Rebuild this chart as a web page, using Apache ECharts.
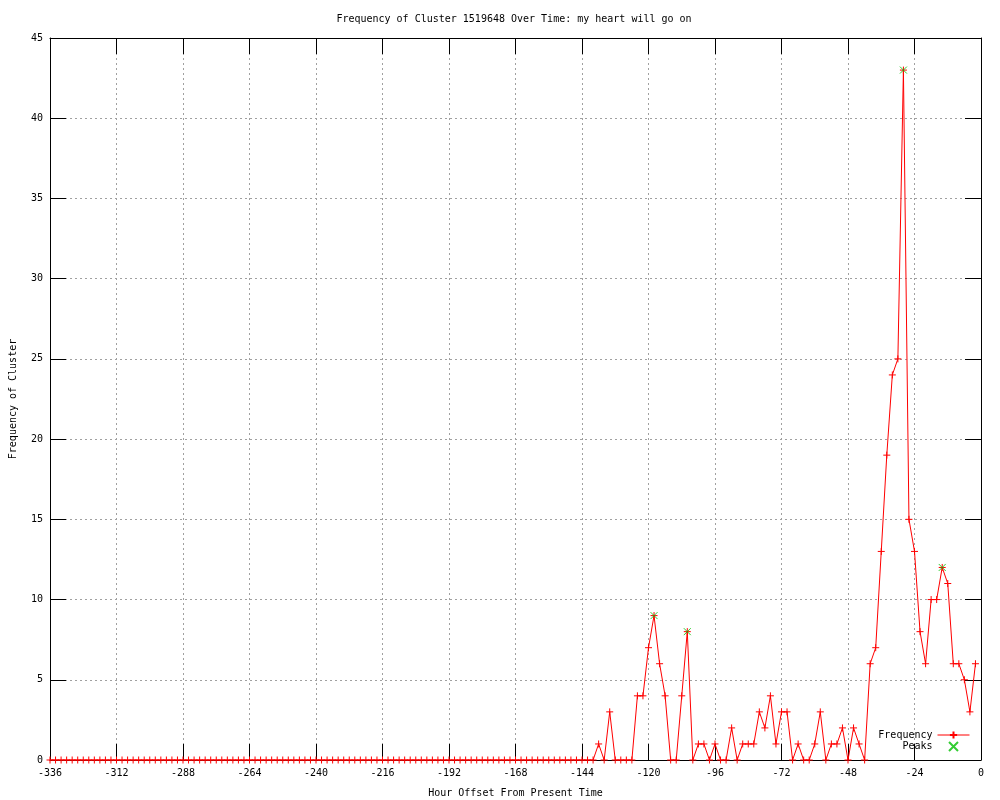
<!DOCTYPE html>
<html>
<head>
<meta charset="utf-8">
<script src="https://cdn.jsdelivr.net/npm/echarts@6/dist/echarts.min.js"></script>
<style>html,body{margin:0;padding:0;background:#fff;}#c{width:1000px;height:800px;}</style>
</head>
<body>
<div id="c"></div>
<script>
// Hour offsets of each sample (every 2 hours)
const hours = [
-336,-334,-332,-330,-328,-326,-324,-322,-320,-318,-316,-314,-312,-310,-308,-306,-304,-302,-300,-298,
-296,-294,-292,-290,-288,-286,-284,-282,-280,-278,-276,-274,-272,-270,-268,-266,-264,-262,-260,-258,
-256,-254,-252,-250,-248,-246,-244,-242,-240,-238,-236,-234,-232,-230,-228,-226,-224,-222,-220,-218,
-216,-214,-212,-210,-208,-206,-204,-202,-200,-198,-196,-194,-192,-190,-188,-186,-184,-182,-180,-178,
-176,-174,-172,-170,-168,-166,-164,-162,-160,-158,-156,-154,-152,-150,-148,-146,-144,-142,-140,
-138,-136,-134,-132,-130,-128,-126,-124,-122,-120,
-118,-116,-114,-112,-110,-108,-106,-104,-102,-100,
-98,-96,-94,-92,-90,-88,-86,-84,-82,-80,
-78,-76,-74,-72,-70,-68,-66,-64,-62,-60,
-58,-56,-54,-52,-50,-48,-46,-44,-42,-40,
-38,-36,-34,-32,-30,-28,-26,-24,-22,-20,
-18,-16,-14,-12,-10,-8,-6,-4,-2
];
// Frequency values at each hour offset
const frequency = [
0,0,0,0,0,0,0,0,0,0,0,0,0,0,0,0,0,0,0,0,
0,0,0,0,0,0,0,0,0,0,0,0,0,0,0,0,0,0,0,0,
0,0,0,0,0,0,0,0,0,0,0,0,0,0,0,0,0,0,0,0,
0,0,0,0,0,0,0,0,0,0,0,0,0,0,0,0,0,0,0,0,
0,0,0,0,0,0,0,0,0,0,0,0,0,0,0,0,0,0,0,
1,0,3,0,0,0,0,4,4,7,
9,6,4,0,0,4,8,0,1,1,
0,1,0,0,2,0,1,1,1,3,
2,4,1,3,3,0,1,0,0,1,
3,0,1,1,2,0,2,1,0,6,
7,13,19,24,25,43,15,13,8,6,
10,10,12,11,6,6,5,3,6
];
// Detected peaks
const peakHours = [-118, -106, -28, -14];
const peakValues = [9, 8, 43, 12];

const titleText = 'Frequency of Cluster 1519648 Over Time: my heart will go on';
const xName = 'Hour Offset From Present Time';
const yName = 'Frequency of Cluster';

const freqData = hours.map((h, i) => [h, frequency[i]]);
const peakData = peakHours.map((h, i) => [h, peakValues[i]]);

const FONT = 'DejaVu Sans Mono';
const plusPath = 'path://M0,5L10,5M5,0L5,10';
const crossPath = 'path://M0,0L10,10M10,0L0,10';

const chart = echarts.init(document.getElementById('c'), null, {renderer: 'canvas'});
const tickStyle = {show: true, inside: true, length: 16, lineStyle: {color: '#000', width: 1}};
const axisLineStyle = {show: true, onZero: false, lineStyle: {color: '#000', width: 1}};
const gridStyle = {show: true, lineStyle: {color: '#a0a0a0', width: 1, type: [2, 3]}};

chart.setOption({
  animation: false,
  backgroundColor: '#fff',
  title: {
    text: titleText, left: 509, top: 9, textAlign: 'center',
    textStyle: {fontFamily: FONT, fontSize: 10, fontWeight: 'normal', color: '#000'}
  },
  grid: {left: 50, right: 19, top: 38, bottom: 40, outerBoundsMode: 'none', containLabel: false},
  legend: {
    orient: 'vertical', align: 'right', right: 30, bottom: 48, padding: 0,
    itemWidth: 32, itemHeight: 9, itemGap: 1,
    lineStyle: {width: 1},
    textStyle: {fontFamily: FONT, fontSize: 10, color: '#000'},
    data: ['Frequency', 'Peaks']
  },
  xAxis: [{
    type: 'value', min: -336, max: 0, interval: 24, position: 'bottom',
    name: xName, nameLocation: 'middle', nameGap: 28,
    nameTextStyle: {fontFamily: FONT, fontSize: 10, color: '#000'},
    axisLine: axisLineStyle, axisTick: tickStyle,
    axisLabel: {fontFamily: FONT, fontSize: 10, color: '#000', margin: 8},
    splitLine: gridStyle
  }, {
    type: 'value', min: -336, max: 0, interval: 24, position: 'top',
    axisLine: axisLineStyle, axisTick: tickStyle,
    axisLabel: {show: false}, splitLine: {show: false}
  }],
  yAxis: [{
    type: 'value', min: 0, max: 45, interval: 5, position: 'left',
    name: yName, nameLocation: 'middle', nameGap: 32, nameRotate: 90,
    nameTextStyle: {fontFamily: FONT, fontSize: 10, color: '#000'},
    axisLine: axisLineStyle, axisTick: tickStyle,
    axisLabel: {fontFamily: FONT, fontSize: 10, color: '#000', margin: 7},
    splitLine: gridStyle
  }, {
    type: 'value', min: 0, max: 45, interval: 5, position: 'right',
    axisLine: axisLineStyle, axisTick: tickStyle,
    axisLabel: {show: false}, splitLine: {show: false}
  }],
  series: [{
    name: 'Frequency', type: 'line', data: freqData,
    xAxisIndex: 0, yAxisIndex: 0,
    symbol: plusPath, symbolSize: 7, showSymbol: true, showAllSymbol: true,
    clip: false,
    lineStyle: {color: '#ff0000', width: 1},
    itemStyle: {color: '#ff0000', borderColor: '#ff0000', borderWidth: 1},
    z: 3
  }, {
    name: 'Peaks', type: 'scatter', data: peakData,
    xAxisIndex: 0, yAxisIndex: 0,
    symbol: crossPath, symbolSize: 7, clip: false,
    itemStyle: {color: '#00c000', borderColor: '#00c000', borderWidth: 1},
    z: 4
  }]
});
</script>
</body>
</html>
